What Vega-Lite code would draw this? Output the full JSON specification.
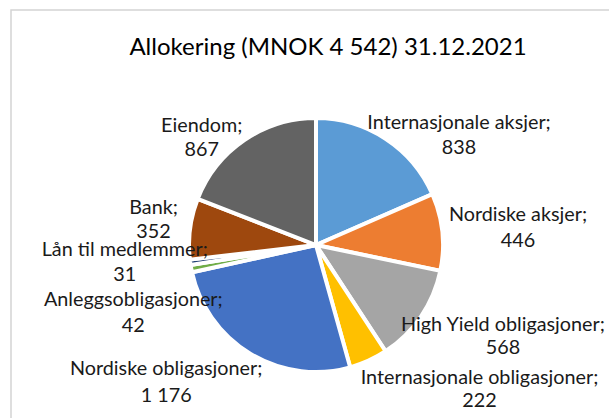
{
  "$schema": "https://vega.github.io/schema/vega-lite/v6.json",
  "width": 610,
  "height": 470,
  "autosize": {"type": "none"},
  "padding": {"left": 11, "top": 10, "right": 0, "bottom": 0},
  "background": "white",
  "view": {"stroke": "#D4D4D4", "strokeWidth": 1.5},
  "title": {"text": "Allokering (MNOK 4 542) 31.12.2021", "font": "Lato", "fontSize": 24, "fontWeight": "normal", "color": "#000000", "anchor": "middle", "baseline": "alphabetic", "offset": -69, "dx": 12},
  "data": {"values": [
    {"rank": 1, "category": "Internasjonale aksjer", "value": 838},
    {"rank": 2, "category": "Nordiske aksjer", "value": 446},
    {"rank": 3, "category": "High Yield obligasjoner", "value": 568},
    {"rank": 4, "category": "Internasjonale obligasjoner", "value": 222},
    {"rank": 5, "category": "Nordiske obligasjoner", "value": 1176},
    {"rank": 6, "category": "Anleggsobligasjoner", "value": 42},
    {"rank": 7, "category": "Lån til medlemmer", "value": 31},
    {"rank": 8, "category": "Bank", "value": 352},
    {"rank": 9, "category": "Eiendom", "value": 867}
  ]},
  "transform": [{"calculate": "datum.category + ';\\n' + replace(format(datum.value, ','), ',', ' ')", "as": "label"}],
  "encoding": {
    "theta": {"field": "value", "type": "quantitative", "stack": true},
    "order": {"field": "rank", "type": "quantitative", "sort": "ascending"},
    "color": {"field": "category", "type": "nominal", "sort": null, "legend": null,
      "scale": {"domain": ["Internasjonale aksjer", "Nordiske aksjer", "High Yield obligasjoner", "Internasjonale obligasjoner", "Nordiske obligasjoner", "Anleggsobligasjoner", "Lån til medlemmer", "Bank", "Eiendom"],
        "range": ["#5B9BD5", "#ED7D31", "#A5A5A5", "#FFC000", "#4472C4", "#70AD47", "#264478", "#9E480E", "#636363"]}}
  },
  "layer": [
    {"mark": {"type": "arc", "outerRadius": 127, "stroke": "white", "strokeWidth": 4}},
    {"mark": {"type": "text", "radius": 190, "dx": 39, "dy": 37, "font": "Lato", "fontSize": 19.8, "lineHeight": 25, "baseline": "middle", "align": "center", "lineBreak": "\n"},
     "encoding": {"color": {"value": "#1a1a1a"}, "text": {"condition": {"test": "datum.category == 'Internasjonale aksjer'", "field": "label"}, "value": ""}}},
    {"mark": {"type": "text", "radius": 190, "dx": 13, "dy": -10, "font": "Lato", "fontSize": 19.8, "lineHeight": 26, "baseline": "middle", "align": "center", "lineBreak": "\n"},
     "encoding": {"color": {"value": "#1a1a1a"}, "text": {"condition": {"test": "datum.category == 'Nordiske aksjer'", "field": "label"}, "value": ""}}},
    {"mark": {"type": "text", "radius": 190, "dx": 30, "dy": -27, "font": "Lato", "fontSize": 19.8, "lineHeight": 23, "baseline": "middle", "align": "center", "lineBreak": "\n"},
     "encoding": {"color": {"value": "#1a1a1a"}, "text": {"condition": {"test": "datum.category == 'High Yield obligasjoner'", "field": "label"}, "value": ""}}},
    {"mark": {"type": "text", "radius": 190, "dx": 85, "dy": -40, "font": "Lato", "fontSize": 19.8, "lineHeight": 23, "baseline": "middle", "align": "center", "lineBreak": "\n"},
     "encoding": {"color": {"value": "#1a1a1a"}, "text": {"condition": {"test": "datum.category == 'Internasjonale obligasjoner'", "field": "label"}, "value": ""}}},
    {"mark": {"type": "text", "radius": 190, "dx": -52, "dy": -39, "font": "Lato", "fontSize": 19.8, "lineHeight": 27, "baseline": "middle", "align": "center", "lineBreak": "\n"},
     "encoding": {"color": {"value": "#1a1a1a"}, "text": {"condition": {"test": "datum.category == 'Nordiske obligasjoner'", "field": "label"}, "value": ""}}},
    {"mark": {"type": "text", "radius": 190, "dx": 4, "dy": 20, "font": "Lato", "fontSize": 19.8, "lineHeight": 26, "baseline": "middle", "align": "center", "lineBreak": "\n"},
     "encoding": {"color": {"value": "#1a1a1a"}, "text": {"condition": {"test": "datum.category == 'Anleggsobligasjoner'", "field": "label"}, "value": ""}}},
    {"mark": {"type": "text", "radius": 190, "dx": -3, "dy": -21, "font": "Lato", "fontSize": 19.8, "lineHeight": 25, "baseline": "middle", "align": "center", "lineBreak": "\n"},
     "encoding": {"color": {"value": "#1a1a1a"}, "text": {"condition": {"test": "datum.category == 'Lån til medlemmer'", "field": "label"}, "value": ""}}},
    {"mark": {"type": "text", "radius": 190, "dx": 26, "dy": -13, "font": "Lato", "fontSize": 19.8, "lineHeight": 24, "baseline": "middle", "align": "center", "lineBreak": "\n"},
     "encoding": {"color": {"value": "#1a1a1a"}, "text": {"condition": {"test": "datum.category == 'Bank'", "field": "label"}, "value": ""}}},
    {"mark": {"type": "text", "radius": 190, "dx": -7, "dy": 38, "font": "Lato", "fontSize": 19.8, "lineHeight": 24, "baseline": "middle", "align": "center", "lineBreak": "\n"},
     "encoding": {"color": {"value": "#1a1a1a"}, "text": {"condition": {"test": "datum.category == 'Eiendom'", "field": "label"}, "value": ""}}}
  ]
}
